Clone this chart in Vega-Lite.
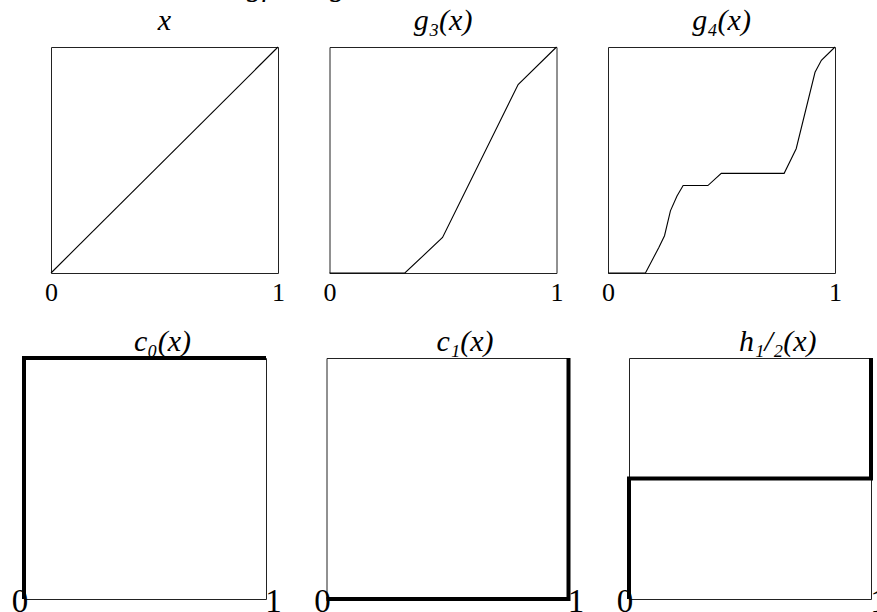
{
  "$schema": "https://vega.github.io/schema/vega-lite/v6.json",
  "padding": {"left": 10, "top": -28, "right": 0, "bottom": 0},
  "background": "white",
  "bounds": "flush",
  "spacing": 311,
  "title": {"text": "gf and gk", "anchor": "start", "frame": "group", "dx": 223, "offset": 3},
  "datasets": {
    "identity": [{"i": 0, "x": 0, "y": 0}, {"i": 1, "x": 1, "y": 1}],
    "g3": [
      {"i": 0, "x": 0, "y": 0}, {"i": 1, "x": 0.332, "y": 0}, {"i": 2, "x": 0.498, "y": 0.157},
      {"i": 3, "x": 0.831, "y": 0.834}, {"i": 4, "x": 1, "y": 1}
    ],
    "g4": [
      {"i": 0, "x": 0, "y": 0}, {"i": 1, "x": 0.165, "y": 0}, {"i": 2, "x": 0.224, "y": 0.113},
      {"i": 3, "x": 0.249, "y": 0.165}, {"i": 4, "x": 0.275, "y": 0.275}, {"i": 5, "x": 0.304, "y": 0.341},
      {"i": 6, "x": 0.331, "y": 0.387}, {"i": 7, "x": 0.44, "y": 0.387}, {"i": 8, "x": 0.499, "y": 0.441},
      {"i": 9, "x": 0.776, "y": 0.441}, {"i": 10, "x": 0.829, "y": 0.55}, {"i": 11, "x": 0.912, "y": 0.888},
      {"i": 12, "x": 0.94, "y": 0.941}, {"i": 13, "x": 1, "y": 1}
    ],
    "c0": [{"i": 0, "x": 0, "y": 0}, {"i": 1, "x": 0, "y": 1}, {"i": 2, "x": 1, "y": 1}],
    "c1": [{"i": 0, "x": 0, "y": 0}, {"i": 1, "x": 1, "y": 0}, {"i": 2, "x": 1, "y": 1}],
    "h": [{"i": 0, "x": 0, "y": 0}, {"i": 1, "x": 0, "y": 0.5}, {"i": 2, "x": 1, "y": 0.5}, {"i": 3, "x": 1, "y": 1}]
  },
  "config": {
    "view": {"stroke": "#222222", "strokeWidth": 1},
    "font": "Liberation Serif",
    "title": {"font": "Liberation Serif", "fontStyle": "italic", "fontWeight": "normal", "fontSize": 30, "color": "black", "baseline": "alphabetic", "offset": 9},
    "axis": {"grid": false, "ticks": false, "domain": false, "format": "d", "labelFont": "Liberation Serif", "labelColor": "black", "labelFlush": false, "labelOverlap": false, "title": null},
    "line": {"color": "black", "strokeWidth": 1.1}
  },
  "vconcat": [
    {
      "bounds": "flush",
      "spacing": 0,
      "hconcat": [
        {"width": 27, "height": 226, "data": {"values": []}, "mark": "point", "view": {"stroke": null}},
        {
          "bounds": "flush",
          "spacing": 51.5,
          "hconcat": [
            {
              "width": 227, "height": 226,
              "title": {"text": "x", "frame": "group"},
              "data": {"name": "identity"},
              "mark": "line",
              "encoding": {
                "x": {"field": "x", "type": "quantitative", "scale": {"domain": [0, 1], "nice": false, "zero": false}, "axis": {"values": [0, 1], "labelFontSize": 26, "labelPadding": 6, "labelBaseline": "top"}},
                "y": {"field": "y", "type": "quantitative", "scale": {"domain": [0, 1], "nice": false}, "axis": null},
                "order": {"field": "i"}
              }
            },
            {
              "width": 227, "height": 226,
              "title": {"text": "g₃(x)", "frame": "group"},
              "data": {"name": "g3"},
              "mark": "line",
              "encoding": {
                "x": {"field": "x", "type": "quantitative", "scale": {"domain": [0, 1], "nice": false, "zero": false}, "axis": {"values": [0, 1], "labelFontSize": 26, "labelPadding": 6, "labelBaseline": "top"}},
                "y": {"field": "y", "type": "quantitative", "scale": {"domain": [0, 1], "nice": false}, "axis": null},
                "order": {"field": "i"}
              }
            },
            {
              "width": 227, "height": 226,
              "title": {"text": "g₄(x)", "frame": "group"},
              "data": {"name": "g4"},
              "mark": "line",
              "encoding": {
                "x": {"field": "x", "type": "quantitative", "scale": {"domain": [0, 1], "nice": false, "zero": false}, "axis": {"values": [0, 1], "labelFontSize": 26, "labelPadding": 6, "labelBaseline": "top"}},
                "y": {"field": "y", "type": "quantitative", "scale": {"domain": [0, 1], "nice": false}, "axis": null},
                "order": {"field": "i"}
              }
            }
          ]
        }
      ]
    },
    {
      "bounds": "flush",
      "spacing": 60.5,
      "hconcat": [
        {
          "width": 242, "height": 241,
          "title": {"text": "c₀(x)", "anchor": "start", "frame": "group", "dx": 110, "offset": -7},
          "data": {"name": "c0"},
          "mark": {"type": "line", "strokeWidth": 4},
          "encoding": {
            "x": {"field": "x", "type": "quantitative", "scale": {"domain": [0, 1], "nice": false, "zero": false}, "axis": {"values": [0, 1], "labelFontSize": 33, "labelPadding": 2, "labelBaseline": "middle", "labelOffset": {"condition": {"test": "datum.value == 0", "value": -4.5}, "value": 7}}},
            "y": {"field": "y", "type": "quantitative", "scale": {"domain": [0, 1], "nice": false}, "axis": null},
            "order": {"field": "i"}
          }
        },
        {
          "width": 242, "height": 241,
          "title": {"text": "c₁(x)", "anchor": "start", "frame": "group", "dx": 110, "offset": -7},
          "data": {"name": "c1"},
          "mark": {"type": "line", "strokeWidth": 4},
          "encoding": {
            "x": {"field": "x", "type": "quantitative", "scale": {"domain": [0, 1], "nice": false, "zero": false}, "axis": {"values": [0, 1], "labelFontSize": 33, "labelPadding": 2, "labelBaseline": "middle", "labelOffset": {"condition": {"test": "datum.value == 0", "value": -4.5}, "value": 7}}},
            "y": {"field": "y", "type": "quantitative", "scale": {"domain": [0, 1], "nice": false}, "axis": null},
            "order": {"field": "i"}
          }
        },
        {
          "width": 242, "height": 241,
          "title": {"text": "h₁/₂(x)", "anchor": "start", "frame": "group", "dx": 110, "offset": -7},
          "data": {"name": "h"},
          "mark": {"type": "line", "strokeWidth": 4},
          "encoding": {
            "x": {"field": "x", "type": "quantitative", "scale": {"domain": [0, 1], "nice": false, "zero": false}, "axis": {"values": [0, 1], "labelFontSize": 33, "labelPadding": 2, "labelBaseline": "middle", "labelOffset": {"condition": {"test": "datum.value == 0", "value": -4.5}, "value": 7}}},
            "y": {"field": "y", "type": "quantitative", "scale": {"domain": [0, 1], "nice": false}, "axis": null},
            "order": {"field": "i"}
          }
        }
      ]
    }
  ]
}
